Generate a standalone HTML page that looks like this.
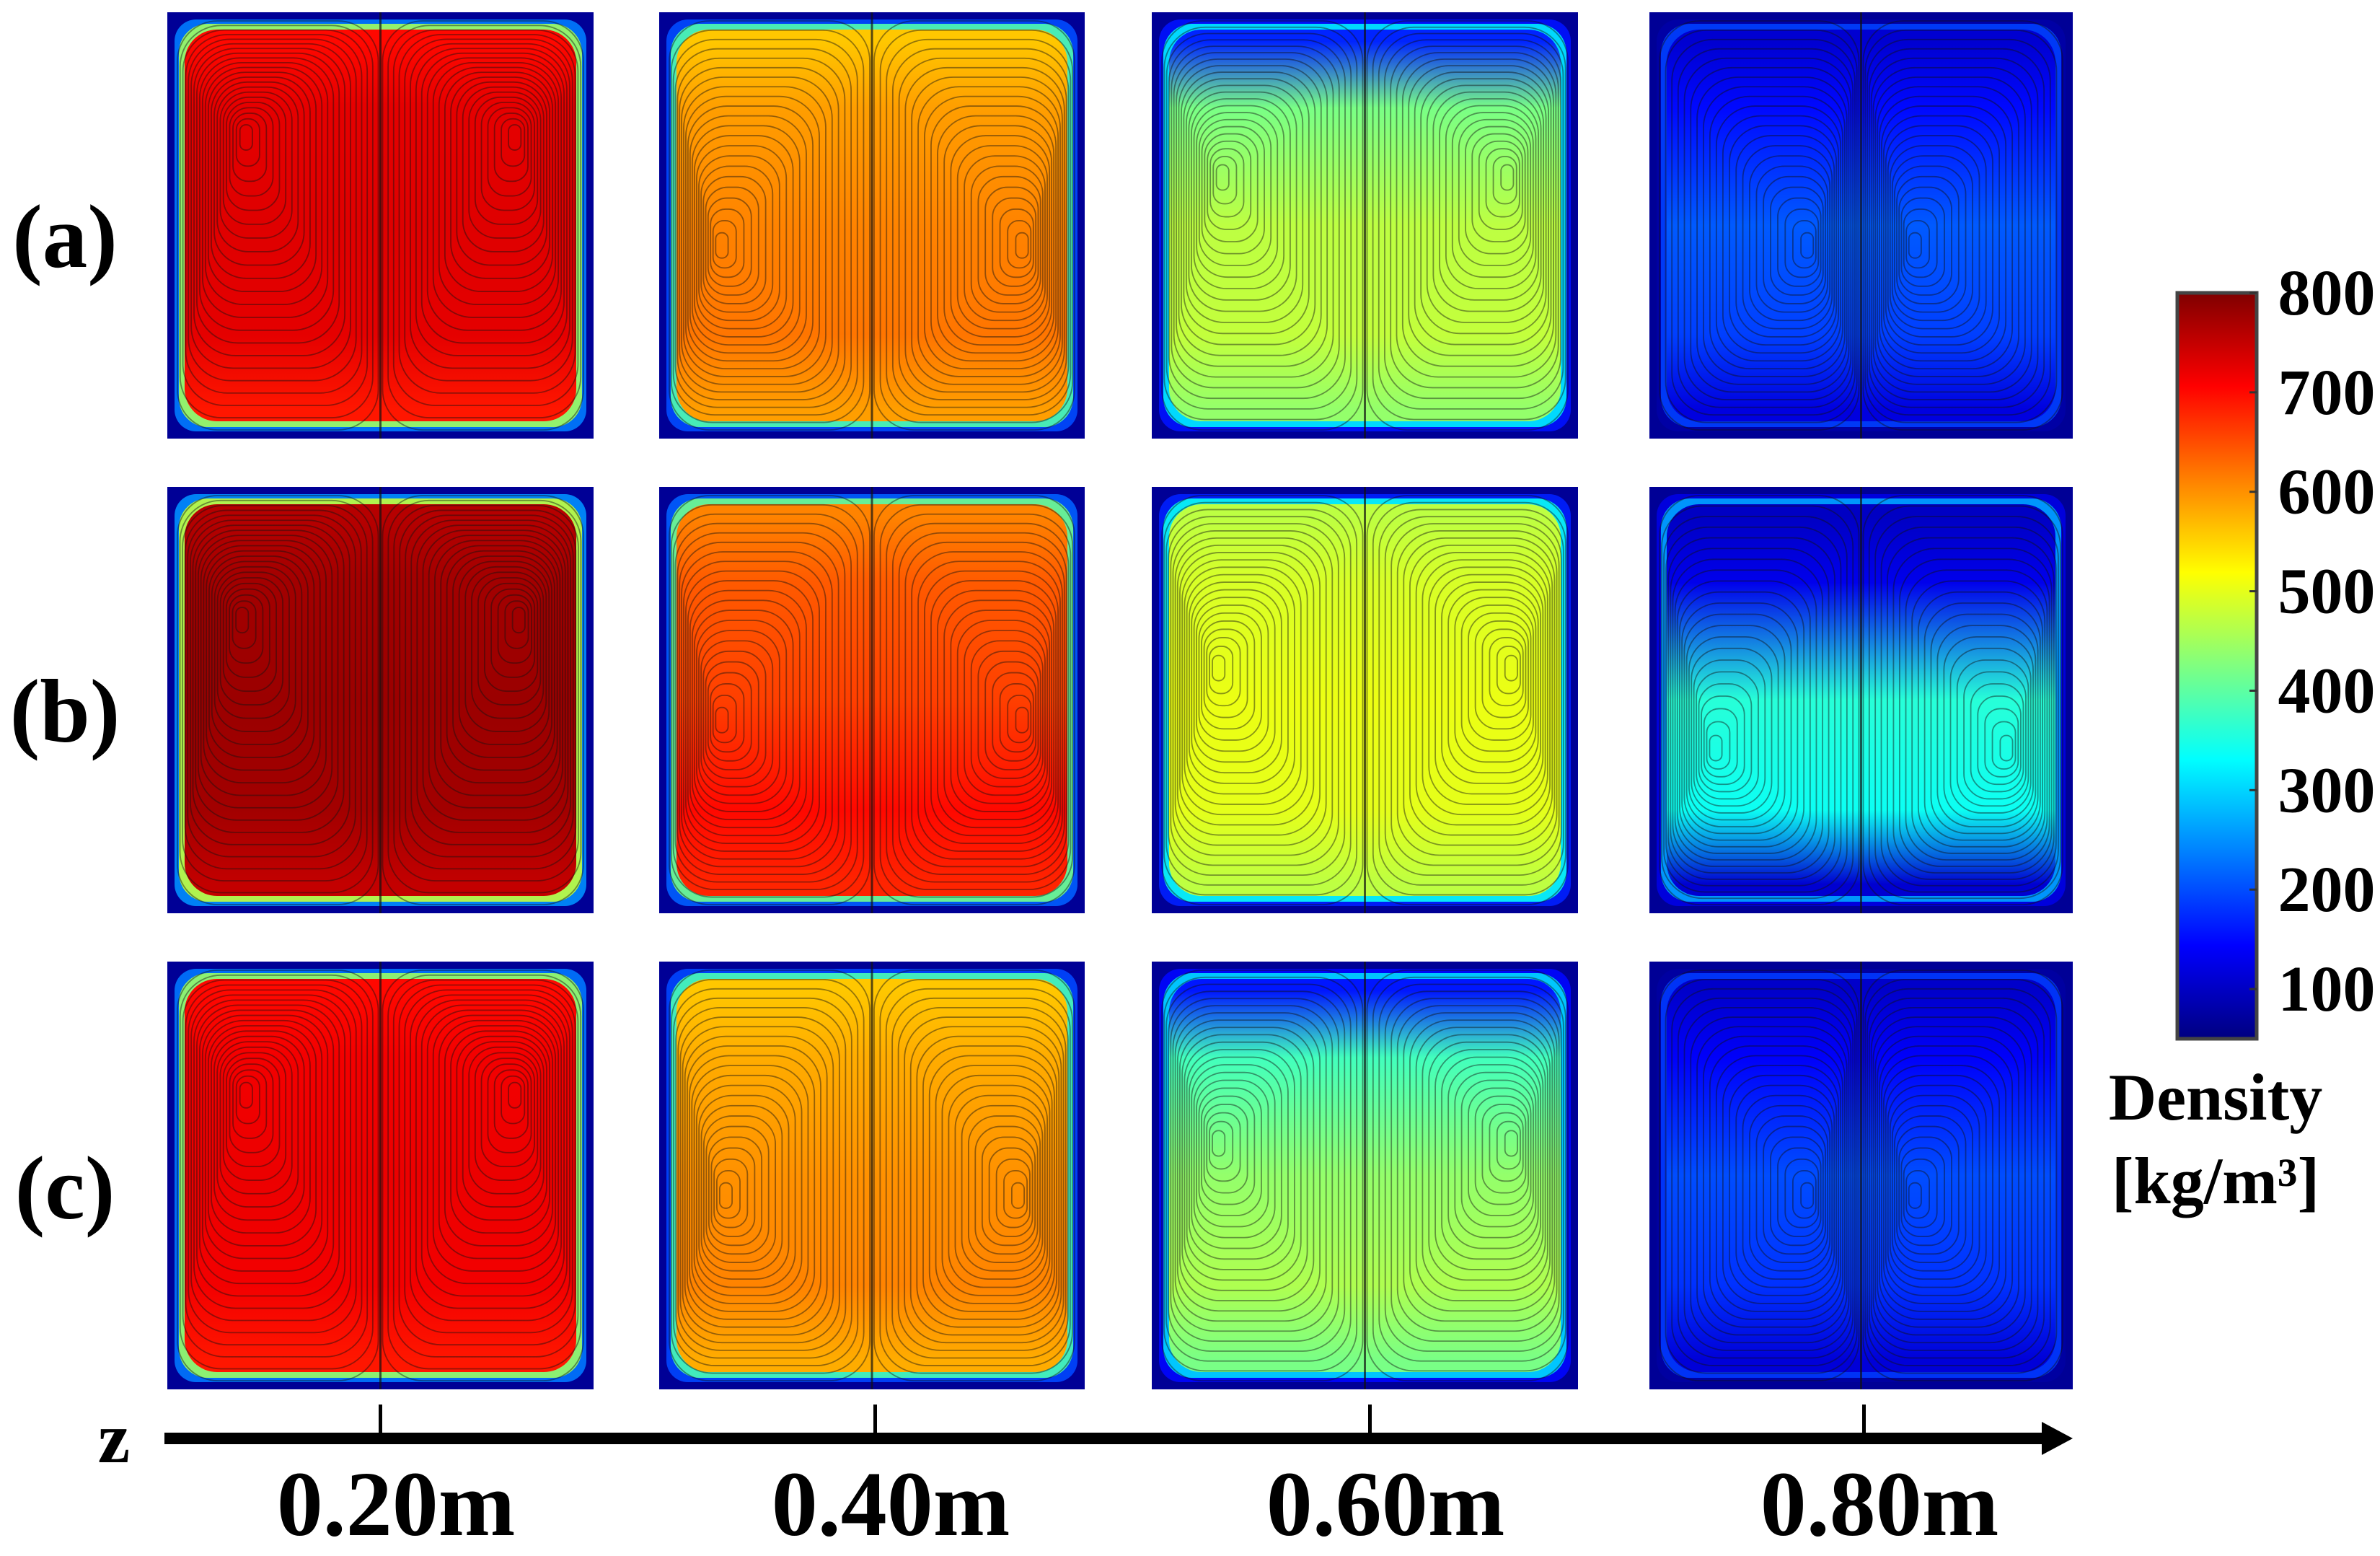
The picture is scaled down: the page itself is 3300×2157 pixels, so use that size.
<!DOCTYPE html>
<html><head><meta charset="utf-8">
<style>
html,body{margin:0;padding:0;background:#fff;}
svg text{font-family:"Liberation Serif",serif;font-weight:bold;fill:#000;}
</style></head>
<body>
<svg id="fig" width="3300" height="2152" viewBox="0 0 3300 2152" xmlns="http://www.w3.org/2000/svg">
<defs id="defs"></defs>
<g id="panels"></g>
<g>
<text x="90" y="370" font-size="125" text-anchor="middle">(a)</text>
<text x="90" y="1028" font-size="125" text-anchor="middle">(b)</text>
<text x="90" y="1689" font-size="125" text-anchor="middle">(c)</text>
</g>
<g id="axis">
<rect x="228" y="1986" width="2610" height="16" fill="#000"/>
<polygon points="2831,1971 2874,1994 2831,2017" fill="#000"/>
<text x="158" y="2027" font-size="100" text-anchor="middle">z</text>
</g>
<g id="cbar"></g>
<text x="3072" y="1552" font-size="92" text-anchor="middle">Density</text>
<text x="3072" y="1668" font-size="92" text-anchor="middle">[kg/m³]</text>
</svg>
<script>
// ---- data ----
const zLabels = ["0.20m","0.40m","0.60m","0.80m"];
const rowNames = ["a","b","c"];
const cbarTicks = [800,700,600,500,400,300,200,100];
// density profile (top -> bottom) per panel, rows a,b,c x columns
const densTop    = [[700,560,170,110],[760,610,470,100],[700,560,160,105]];
const densUpper  = [[725,590,420,150],[775,640,490,130],[715,580,380,140]];
const densMid    = [[730,610,470,210],[780,660,505,360],[720,600,440,200]];
const densLower  = [[725,620,475,190],[775,700,500,340],[715,610,460,180]];
const densBottom = [[690,590,440,120],[750,680,470,110],[690,580,420,115]];
const vortexX = [[0.18,0.14,0.16,0.38],[0.17,0.14,0.15,0.15],[0.18,0.15,0.15,0.38]];
const vortexY = [[0.28,0.55,0.38,0.55],[0.30,0.55,0.42,0.62],[0.30,0.55,0.42,0.55]];
const vmin = 50, vmax = 800;

// ---- layout ----
const colX = [232,914,1597,2287];
const colW = [591,590,591,587];
const rowY = [17,675,1333];
const rowH = [591,591,593];
const tickX = [527,1213,1899,2584];
const NS = "http://www.w3.org/2000/svg";
function mk(tag, attrs, parent){const e=document.createElementNS(NS,tag);for(const k in attrs)e.setAttribute(k,attrs[k]);if(parent)parent.appendChild(e);return e;}
function cl(v){return Math.max(0,Math.min(1,v));}
function jet(val){const t=cl((val-vmin)/(vmax-vmin));
 const r=cl(1.5-Math.abs(4*t-3)),g=cl(1.5-Math.abs(4*t-2)),b=cl(1.5-Math.abs(4*t-1));
 return `rgb(${Math.round(r*255)},${Math.round(g*255)},${Math.round(b*255)})`;}
const defs=document.getElementById('defs');
const panels=document.getElementById('panels');

for(let r=0;r<3;r++){for(let c=0;c<4;c++){
 const x=colX[c], y=rowY[r], w=colW[c], h=rowH[r];
 const id=`p${r}${c}`;
 const grad=mk('linearGradient',{id:'g'+id,x1:0,y1:0,x2:0,y2:1},defs);
 const vals=[densTop[r][c],densUpper[r][c],densMid[r][c],densLower[r][c],densBottom[r][c]];
 const offs=[0.03,0.2,0.5,0.78,0.97];
 vals.forEach((v,i)=>mk('stop',{offset:offs[i],'stop-color':jet(v)},grad));
 const cp=mk('clipPath',{id:'c'+id},defs);
 mk('rect',{x:x,y:y,width:w,height:h},cp);
 const g=mk('g',{'clip-path':`url(#c${id})`},panels);
 
 
 mk('rect',{x:x,y:y,width:w,height:h,fill:'rgb(0,0,150)'},g);
 const ringVal=(vals[2]+vmin)/2;
 mk('rect',{x:x+10,y:y+10,width:w-20,height:h-20,rx:30,fill:jet(Math.max(vmin,ringVal*0.6)),opacity:0.9},g);
 mk('rect',{x:x+16,y:y+16,width:w-32,height:h-32,rx:40,fill:jet(ringVal+60),opacity:0.9},g);
 const inner=mk('rect',{x:x+24,y:y+24,width:w-48,height:h-48,rx:45,fill:`url(#g${id})`},g);
 
 
 const sg=mk('g',{fill:'none',stroke:'#111','stroke-opacity':0.45,'stroke-width':1.8},g);
 
 
 const N=22;
 for(let side=0;side<2;side++){
  const hx0=side===0?x+14:x+w/2+3, hx1=side===0?x+w/2-3:x+w-14;
  const vx=side===0?x+vortexX[r][c]*w:x+(1-vortexX[r][c])*w;
  const vy=y+vortexY[r][c]*h;
  for(let k=1;k<=N;k++){
   const s=Math.pow(k/N,0.9);
   const l=vx+(hx0-vx)*s, rt=vx+(hx1-vx)*s, t=vy+(y+12-vy)*s, b=vy+(y+h-12-vy)*s;
   const ww=Math.max(2,rt-l), hh=Math.max(2,b-t);
   const rad=Math.min(ww,hh)/2*(1-0.6*s);
   mk('rect',{x:l,y:t,width:ww,height:hh,rx:rad},sg);
  }
 }
 mk('line',{x1:x+w/2,y1:y,x2:x+w/2,y2:y+h,stroke:'#111','stroke-opacity':0.7,'stroke-width':3},g);
}}

const axis=document.getElementById('axis');
zLabels.forEach((lab,i)=>{
 const t=mk('rect',{x:tickX[i]-2,y:1947,width:5,height:40,fill:'#000'},axis);
 
 
 const tx=mk('text',{x:tickX[i]+22,y:2128,'font-size':128,'text-anchor':'middle'},axis);
 
 
 tx.textContent=lab;
});

const cb=document.getElementById('cbar');
const cbx=3019, cbw=110, cbTop=406, cbBot=1440;
const cg=mk('linearGradient',{id:'cbgrad',x1:0,y1:1,x2:0,y2:0},defs);
for(let i=0;i<=40;i++){mk('stop',{offset:i/40,'stop-color':jet(vmin+(vmax-vmin)*i/40)},cg);}
const cr=mk('rect',{x:cbx,y:cbTop,width:cbw,height:cbBot-cbTop,fill:'url(#cbgrad)',stroke:'#444','stroke-width':5},cb);


function cbY(v){return cbBot-(v-vmin)/(vmax-vmin)*(cbBot-cbTop);}
cbarTicks.forEach(v=>{
 const yy=cbY(v);
 mk('line',{x1:cbx+cbw-10,y1:yy,x2:cbx+cbw,y2:yy,stroke:'#333','stroke-width':3},cb);
 const t=mk('text',{x:3226,y:yy+30,'font-size':90,'text-anchor':'middle'},cb);
 
 
 t.textContent=v;
});
</script>
</body></html>
